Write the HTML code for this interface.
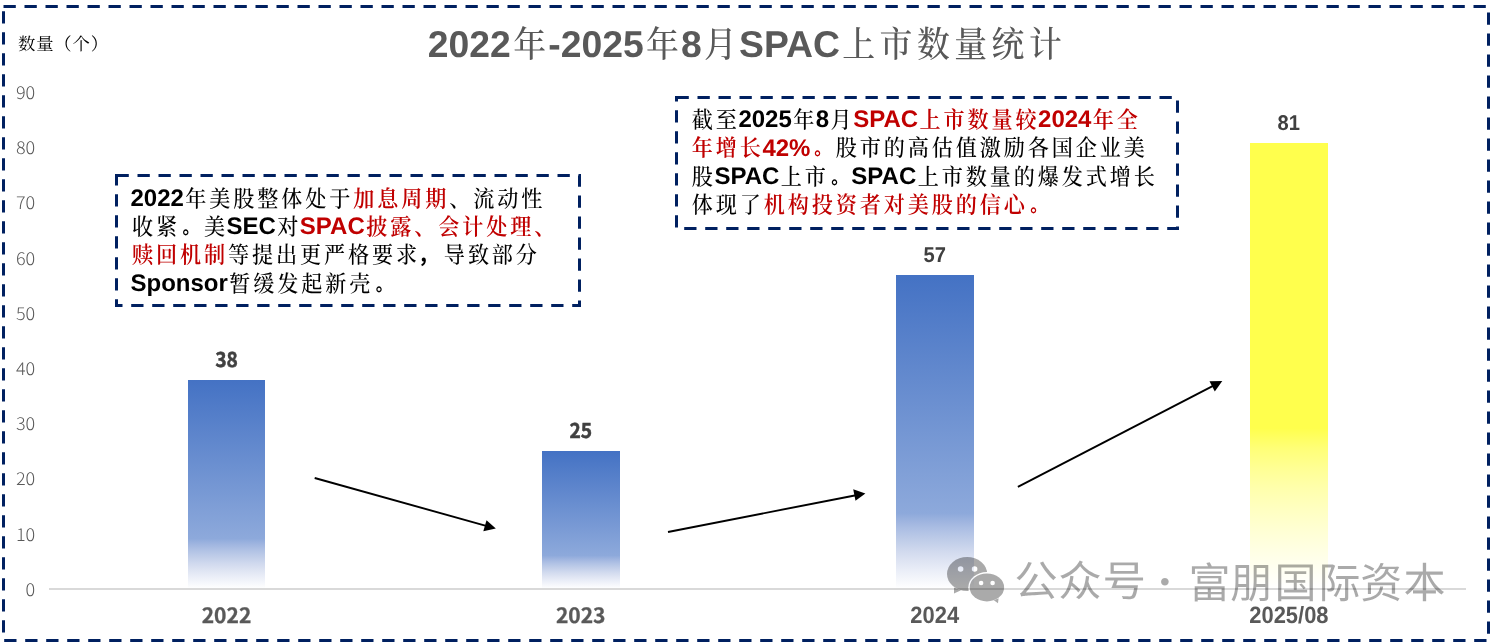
<!DOCTYPE html>
<html lang="zh-CN">
<head>
<meta charset="utf-8">
<title>2022年-2025年8月SPAC上市数量统计</title>
<style>
html,body{margin:0;padding:0;background:#fff;}
body{width:1492px;height:642px;overflow:hidden;}
svg{display:block;}
text{white-space:pre;text-rendering:geometricPrecision;}
.lat{font-family:"Liberation Sans",sans-serif;font-weight:700;}
.cjk{font-family:"Noto Serif CJK SC",serif;font-weight:500;}
.cjkb{font-family:"Noto Serif CJK SC",serif;font-weight:600;}
.pun{font-family:"Noto Sans CJK SC",sans-serif;font-weight:700;}
.red{fill:#C00000;}
.ytitle{font-family:"Noto Serif CJK SC",serif;font-weight:400;fill:#000;}
.ax{font-family:"Noto Sans CJK SC",sans-serif;font-weight:300;fill:#595959;text-anchor:end;}
.catn{font-family:"Noto Sans CJK SC",sans-serif;font-weight:700;fill:#595959;text-anchor:middle;stroke:#595959;stroke-width:0.3px;}
.cata{font-family:"Liberation Sans",sans-serif;font-weight:700;fill:#595959;text-anchor:middle;}
.dln{font-family:"Noto Sans CJK SC",sans-serif;font-weight:700;fill:#404040;text-anchor:middle;stroke:#404040;stroke-width:0.5px;}
.dla{font-family:"Liberation Sans",sans-serif;font-weight:700;fill:#404040;text-anchor:middle;}
.wm{font-family:"Noto Sans CJK SC",sans-serif;font-weight:400;fill:#000;}
</style>
</head>
<body>
<svg width="1492" height="642" viewBox="0 0 1492 642">
<defs>
<linearGradient id="gb" x1="0" y1="0" x2="0" y2="1">
<stop offset="0.0000" stop-color="#4472C4"/>
<stop offset="0.7600" stop-color="#8DA9DB"/>
<stop offset="0.7900" stop-color="#A1B6E0"/>
<stop offset="0.8200" stop-color="#B2C3E5"/>
<stop offset="0.8500" stop-color="#C1CEE9"/>
<stop offset="0.8800" stop-color="#D0D9EE"/>
<stop offset="0.9100" stop-color="#DDE3F2"/>
<stop offset="0.9400" stop-color="#E9EDF7"/>
<stop offset="0.9700" stop-color="#F4F6FB"/>
<stop offset="1.0000" stop-color="#FFFFFF"/>
</linearGradient>
<linearGradient id="gy" x1="0" y1="0" x2="0" y2="1">
<stop offset="0.0000" stop-color="#FFFF4D"/>
<stop offset="0.6400" stop-color="#FFFF4D"/>
<stop offset="0.6850" stop-color="#FFFF77"/>
<stop offset="0.7300" stop-color="#FFFF94"/>
<stop offset="0.7750" stop-color="#FFFFAC"/>
<stop offset="0.8200" stop-color="#FFFFC0"/>
<stop offset="0.8650" stop-color="#FFFFD2"/>
<stop offset="0.9100" stop-color="#FFFFE2"/>
<stop offset="0.9550" stop-color="#FFFFF1"/>
<stop offset="1.0000" stop-color="#FFFFFF"/>
</linearGradient>
<mask id="mbig" maskUnits="userSpaceOnUse" x="940" y="550" width="80" height="60">
<rect x="940" y="550" width="80" height="60" fill="#fff"/>
<circle cx="960.6" cy="569" r="2.8" fill="#000"/>
<circle cx="974.6" cy="569" r="2.8" fill="#000"/>
<ellipse cx="986.9" cy="587.4" rx="18.6" ry="15.4" fill="#000"/>
</mask>
<mask id="msmall" maskUnits="userSpaceOnUse" x="940" y="550" width="80" height="60">
<rect x="940" y="550" width="80" height="60" fill="#fff"/>
<circle cx="981.1" cy="583" r="2.3" fill="#000"/>
<circle cx="992.6" cy="583" r="2.3" fill="#000"/>
</mask>
</defs>
<rect x="0" y="0" width="1492" height="642" fill="#fff"/>

<!-- outer border -->
<rect x="3.5" y="6.5" width="1485" height="634" fill="none" stroke="#002060" stroke-width="3" stroke-dasharray="12.3 8.7"/>
<!-- title -->
<text class="lat" transform="translate(427.84 56.60) scale(1 1.0000)" font-size="37.33" fill="#595959">2022</text>
<text class="cjk" transform="translate(510.89 57.42) scale(0.8800 0.9700)" font-size="37.33" x="2.55" fill="#595959">年</text>
<text class="lat" transform="translate(548.20 56.60) scale(1 1.0000)" font-size="37.33" fill="#595959">-2025</text>
<text class="cjk" transform="translate(643.69 57.42) scale(0.8800 0.9700)" font-size="37.33" x="2.55" fill="#595959">年</text>
<text class="lat" transform="translate(681.00 56.60) scale(1 1.0000)" font-size="37.33" fill="#595959">8</text>
<text class="cjk" transform="translate(701.77 57.42) scale(0.8800 0.9700)" font-size="37.33" x="2.55" fill="#595959">月</text>
<text class="lat" transform="translate(739.08 56.60) scale(1 1.0000)" font-size="37.33" fill="#595959">SPAC</text>
<text class="cjk" transform="translate(840.03 57.42) scale(0.8800 0.9700)" font-size="37.33" x="2.55 44.97 87.39 129.81 172.23 214.65" fill="#595959">上市数量统计</text>
<!-- y axis title -->
<text class="ytitle" transform="translate(18.00 49.90) scale(1.0000 1.0000)" font-size="17.33" letter-spacing="0.85">数量（个）</text>
<!-- y axis labels -->
<text class="ax" transform="translate(35.20 595.80) scale(1.0400 1.0000)" font-size="17.33">0</text>
<text class="ax" transform="translate(35.20 540.60) scale(1.0400 1.0000)" font-size="17.33">10</text>
<text class="ax" transform="translate(35.20 485.40) scale(1.0400 1.0000)" font-size="17.33">20</text>
<text class="ax" transform="translate(35.20 430.20) scale(1.0400 1.0000)" font-size="17.33">30</text>
<text class="ax" transform="translate(35.20 375.00) scale(1.0400 1.0000)" font-size="17.33">40</text>
<text class="ax" transform="translate(35.20 319.80) scale(1.0400 1.0000)" font-size="17.33">50</text>
<text class="ax" transform="translate(35.20 264.60) scale(1.0400 1.0000)" font-size="17.33">60</text>
<text class="ax" transform="translate(35.20 209.40) scale(1.0400 1.0000)" font-size="17.33">70</text>
<text class="ax" transform="translate(35.20 154.20) scale(1.0400 1.0000)" font-size="17.33">80</text>
<text class="ax" transform="translate(35.20 99.00) scale(1.0400 1.0000)" font-size="17.33">90</text>
<!-- bars -->
<rect x="188" y="380" width="77" height="208.5" fill="url(#gb)"/>
<rect x="542" y="451" width="78" height="137.5" fill="url(#gb)"/>
<rect x="896" y="275" width="78" height="313.5" fill="url(#gb)"/>
<rect x="1250" y="143" width="78" height="445.5" fill="url(#gy)"/>
<!-- axis line -->
<rect x="49" y="588" width="1417" height="2" fill="#D9D9D9"/>
<!-- data labels -->
<text class="dln" transform="translate(226.50 367.00) scale(0.9500 1.0000)" font-size="20.20">38</text>
<text class="dln" transform="translate(580.70 438.00) scale(0.9500 1.0000)" font-size="20.20">25</text>
<text class="dla" transform="translate(934.80 262.00) scale(0.9440 1.0000)" font-size="21.33">57</text>
<text class="dla" transform="translate(1288.80 130.00) scale(0.9440 1.0000)" font-size="21.33">81</text>
<!-- category labels -->
<text class="catn" transform="translate(226.50 623.00) scale(1.0000 1.0000)" font-size="21.00">2022</text>
<text class="catn" transform="translate(580.70 623.00) scale(1.0000 1.0000)" font-size="21.00">2023</text>
<text class="cata" transform="translate(934.70 623.00) scale(0.9310 1.0000)" font-size="23.58">2024</text>
<text class="cata" transform="translate(1288.90 623.00) scale(0.9310 1.0000)" font-size="23.58">2025/08</text>
<!-- arrows -->
<g stroke="#000" stroke-width="1.9" fill="none">
<line x1="314.7" y1="478" x2="487" y2="526.1"/>
<line x1="668" y1="532" x2="856" y2="495.2"/>
<line x1="1017.9" y1="486.9" x2="1214" y2="385.4"/>
</g>
<g fill="#000">
<polygon points="495.8,528.6 486.5,520.2 483.3,531.2"/>
<polygon points="865.4,493.4 853.2,489.3 855.5,500.8"/>
<polygon points="1222.3,381.1 1209.5,381.3 1214.8,391.6"/>
</g>
<!-- box 1 -->
<rect x="116.5" y="175.5" width="463" height="130" fill="none" stroke="#002060" stroke-width="3" stroke-dasharray="12.3 8.7"/>
<g fill="#000">
<text class="lat" transform="translate(130.50 206.00) scale(1 1.0000)" font-size="24.00">2022</text>
<text class="cjk" transform="translate(183.89 206.53) scale(0.8800 0.9700)" font-size="24.00" x="1.64 28.91 56.18 83.45 110.73 138.00 165.27">年美股整体处于</text>
<text class="cjkb red" transform="translate(351.86 206.53) scale(0.8800 0.9700)" font-size="24.00" x="1.64 28.91 56.18 83.45">加息周期</text>
<text class="cjk" transform="translate(447.84 206.53) scale(0.8800 0.9700)" font-size="24.00" x="1.64 28.91 56.18 83.45">、流动性</text>
<text class="cjk" transform="translate(130.50 234.93) scale(0.8800 0.9700)" font-size="24.00" x="1.64 28.91">收紧</text>
<text class="pun" transform="translate(178.50 234.10) scale(0.7000 0.8000)" font-size="24.00" x="5.57">。</text>
<text class="cjk" transform="translate(202.50 234.93) scale(0.8800 0.9700)" font-size="24.00" x="1.64">美</text>
<text class="lat" transform="translate(226.50 234.40) scale(1 1.0000)" font-size="24.00">SEC</text>
<text class="cjk" transform="translate(275.86 234.93) scale(0.8800 0.9700)" font-size="24.00" x="1.64">对</text>
<text class="lat red" transform="translate(299.86 234.40) scale(1 1.0000)" font-size="24.00">SPAC</text>
<text class="cjkb red" transform="translate(364.77 234.93) scale(0.8800 0.9700)" font-size="24.00" x="1.64 28.91 56.18 83.45 110.73 138.00 165.27 192.55">披露、会计处理、</text>
<text class="cjkb red" transform="translate(130.50 263.33) scale(0.8800 0.9700)" font-size="24.00" x="1.64 28.91 56.18 83.45">赎回机制</text>
<text class="cjk" transform="translate(226.48 263.33) scale(0.8800 0.9700)" font-size="24.00" x="1.64 28.91 56.18 83.45 110.73 138.00 165.27 192.55">等提出更严格要求</text>
<text class="pun" transform="translate(418.44 262.80) scale(0.8400 0.9600)" font-size="24.00" x="-0.57">，</text>
<text class="cjk" transform="translate(442.44 263.33) scale(0.8800 0.9700)" font-size="24.00" x="1.64 28.91 56.18 83.45">导致部分</text>
<text class="lat" transform="translate(130.50 291.20) scale(1 1.0000)" font-size="24.00">Sponsor</text>
<text class="cjk" transform="translate(227.84 291.73) scale(0.8800 0.9700)" font-size="24.00" x="1.64 28.91 56.18 83.45 110.73 138.00">暂缓发起新壳</text>
<text class="pun" transform="translate(371.81 290.90) scale(0.7000 0.8000)" font-size="24.00" x="5.57">。</text>
</g>
<!-- box 2 -->
<rect x="676.5" y="97.5" width="501" height="131" fill="none" stroke="#002060" stroke-width="3" stroke-dasharray="12.3 8.7"/>
<g fill="#000">
<text class="cjk" transform="translate(690.40 127.83) scale(0.8800 0.9700)" font-size="24.00" x="1.64 28.91">截至</text>
<text class="lat" transform="translate(738.40 127.30) scale(1 1.0000)" font-size="24.00">2025</text>
<text class="cjk" transform="translate(791.79 127.83) scale(0.8800 0.9700)" font-size="24.00" x="1.64">年</text>
<text class="lat" transform="translate(815.79 127.30) scale(1 1.0000)" font-size="24.00">8</text>
<text class="cjk" transform="translate(829.15 127.83) scale(0.8800 0.9700)" font-size="24.00" x="1.64">月</text>
<text class="lat red" transform="translate(853.15 127.30) scale(1 1.0000)" font-size="24.00">SPAC</text>
<text class="cjkb red" transform="translate(918.06 127.83) scale(0.8800 0.9700)" font-size="24.00" x="1.64 28.91 56.18 83.45 110.73">上市数量较</text>
<text class="lat red" transform="translate(1038.04 127.30) scale(1 1.0000)" font-size="24.00">2024</text>
<text class="cjkb red" transform="translate(1091.43 127.83) scale(0.8800 0.9700)" font-size="24.00" x="1.64 28.91">年全</text>
<text class="cjkb red" transform="translate(690.40 156.23) scale(0.8800 0.9700)" font-size="24.00" x="1.64 28.91 56.18">年增长</text>
<text class="lat red" transform="translate(762.38 155.70) scale(1 1.0000)" font-size="24.00">42%</text>
<text class="pun red" transform="translate(810.43 155.40) scale(0.7000 0.8000)" font-size="24.00" x="5.57">。</text>
<text class="cjk" transform="translate(834.43 156.23) scale(0.8800 0.9700)" font-size="24.00" x="1.64 28.91 56.18 83.45 110.73 138.00 165.27 192.55 219.82 247.09 274.36 301.64 328.91">股市的高估值激励各国企业美</text>
<text class="cjk" transform="translate(690.40 184.63) scale(0.8800 0.9700)" font-size="24.00" x="1.64">股</text>
<text class="lat" transform="translate(714.40 184.10) scale(1 1.0000)" font-size="24.00">SPAC</text>
<text class="cjk" transform="translate(779.31 184.63) scale(0.8800 0.9700)" font-size="24.00" x="1.64 28.91">上市</text>
<text class="pun" transform="translate(827.31 183.80) scale(0.7000 0.8000)" font-size="24.00" x="5.57">。</text>
<text class="lat" transform="translate(851.31 184.10) scale(1 1.0000)" font-size="24.00">SPAC</text>
<text class="cjk" transform="translate(916.21 184.63) scale(0.8800 0.9700)" font-size="24.00" x="1.64 28.91 56.18 83.45 110.73 138.00 165.27 192.55 219.82 247.09">上市数量的爆发式增长</text>
<text class="cjk" transform="translate(690.40 213.03) scale(0.8800 0.9700)" font-size="24.00" x="1.64 28.91 56.18">体现了</text>
<text class="cjkb red" transform="translate(762.38 213.03) scale(0.8800 0.9700)" font-size="24.00" x="1.64 28.91 56.18 83.45 110.73 138.00 165.27 192.55 219.82 247.09 274.36">机构投资者对美股的信心</text>
<text class="pun red" transform="translate(1026.32 212.20) scale(0.7000 0.8000)" font-size="24.00" x="5.57">。</text>
</g>
<!-- watermark -->
<g opacity="0.33" fill="#000">
<g mask="url(#mbig)">
<ellipse cx="967.1" cy="574" rx="20.1" ry="17.1"/>
<polygon points="954,587.5 954,593.5 961,590.3"/>
</g>
<g mask="url(#msmall)">
<ellipse cx="986.9" cy="587.4" rx="17.2" ry="14"/>
<polygon points="993.8,600.2 998,603.3 998.6,598.2"/>
</g>
<text class="wm" font-size="42.0" transform="translate(0 596.30) scale(1.0350 1)" x="979.87 1022.38 1065.28">公众号</text>
<text class="wm" font-size="35.0" transform="translate(0 594.70) scale(1.0350 1)" x="1107.91">·</text>
<text class="wm" font-size="42.0" transform="translate(0 597.80) scale(1.0000 1)" x="1188.60 1230.30 1274.40 1318.50 1360.30 1403.40">富朋国际资本</text>
</g>
</svg>
</body>
</html>
